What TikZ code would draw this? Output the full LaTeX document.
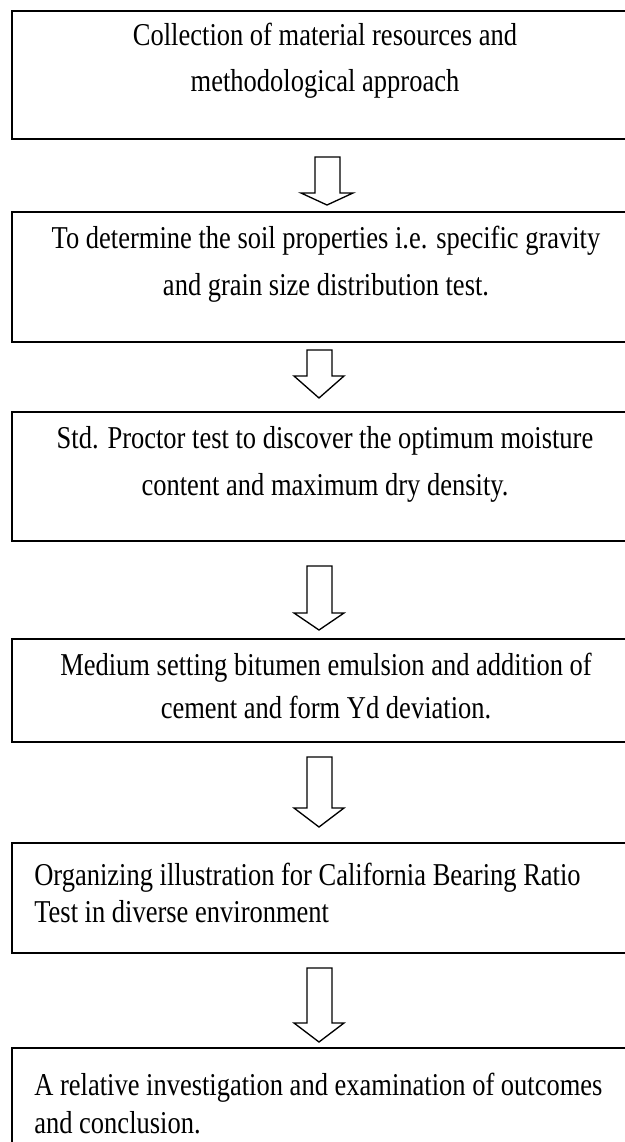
\documentclass[tikz,border=0pt]{standalone}
\usepackage{graphicx}
\usepackage{fontspec}
\setmainfont{Liberation Serif}
\newcommand{\tallline}[1]{\scalebox{1}[1.2]{#1}}
\begin{document}
\begin{tikzpicture}[x=0.6pt,y=-0.6pt,
  stepline/.style={anchor=base,inner sep=0pt,font=\fontsize{15.9}{19}\selectfont},
  leftline/.style={anchor=base west,inner sep=0pt,font=\fontsize{15.9}{19}\selectfont},
  stepbox/.style={draw,line width=1.1pt},
  blockarrow/.style={draw,line width=0.8pt,line join=miter}]
\useasboundingbox (0,0) rectangle (625,1142);

\draw[stepbox] (12,11) rectangle (660,139);
\node[stepline] (collA) at (325,45) {\tallline{Collection of material resources and}};
\node[stepline] (collB) at (325,91) {\tallline{methodological approach}};

\draw[blockarrow] (315,157) -- (340,157) -- (340,193) -- (353,193) -- (327,205) -- (301,193) -- (315,193) -- cycle;

\draw[stepbox] (12,212) rectangle (660,342);
\node[stepline] (soilA) at (326,248) {\tallline{To determine the soil properties i.e. specific gravity}};
\node[stepline] (soilB) at (326,295) {\tallline{and grain size distribution test.}};

\draw[blockarrow] (307,350) -- (332,350) -- (332,376) -- (344,376) -- (319,398) -- (294,376) -- (307,376) -- cycle;

\draw[stepbox] (12,412) rectangle (660,541);
\node[stepline] (proctA) at (325,448) {\tallline{Std. Proctor test to discover the optimum moisture}};
\node[stepline] (proctB) at (325,495) {\tallline{content and maximum dry density.}};

\draw[blockarrow] (307,566) -- (332,566) -- (332,613) -- (344,613) -- (319,630) -- (294,613) -- (307,613) -- cycle;

\draw[stepbox] (12,639) rectangle (660,742);
\node[stepline] (bitA) at (326,675) {\tallline{Medium setting bitumen emulsion and addition of}};
\node[stepline] (bitB) at (326,718) {\tallline{cement and form Yd deviation.}};

\draw[blockarrow] (307,757) -- (332,757) -- (332,808) -- (344,808) -- (319,827) -- (294,808) -- (307,808) -- cycle;

\draw[stepbox] (12,843) rectangle (660,953);
\node[leftline] (cbrA) at (34,885) {\tallline{Organizing illustration for California Bearing Ratio}};
\node[leftline] (cbrB) at (34,922) {\tallline{Test in diverse environment}};

\draw[blockarrow] (307,968) -- (332,968) -- (332,1023) -- (344,1023) -- (319,1042) -- (294,1023) -- (307,1023) -- cycle;

\draw[stepbox] (12,1048) rectangle (660,1180);
\node[leftline] (resA) at (34,1095) {\tallline{A relative investigation and examination of outcomes}};
\node[leftline] (resB) at (34,1133) {\tallline{and conclusion.}};
\end{tikzpicture}
\end{document}
